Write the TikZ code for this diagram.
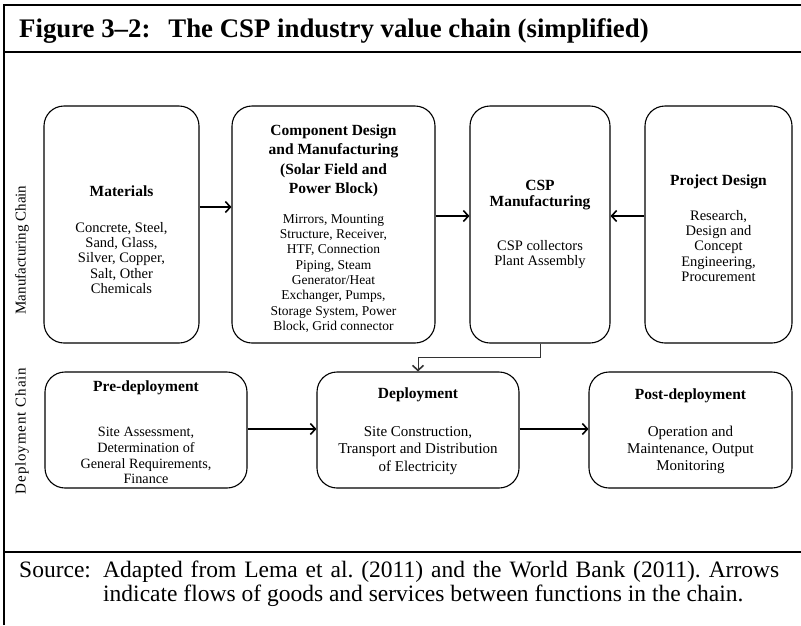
\documentclass[tikz,border=0pt]{standalone}
\usepackage{fontspec}
\setmainfont{Liberation Serif}
\usetikzlibrary{arrows.meta}
\frenchspacing
\begin{document}
\begin{tikzpicture}[x=1pt,y=-1pt,
  box/.style={draw, line width=1.1pt, rounded corners=20pt, inner sep=0pt},
  arr/.style={line width=1.3pt, -{Straight Barb[length=5pt,width=11pt,line width=1.6pt]}},
  frame/.style={line width=2.6pt},
  txt/.style={align=center, inner sep=0pt},
  head/.style={txt, font=\bfseries\fontsize{15.5}{19.5}\selectfont},
  body/.style={txt, font=\fontsize{14.5}{15.4}\selectfont},
  sbody/.style={txt, font=\fontsize{13.5}{15.3}\selectfont},
  side/.style={inner sep=0pt, rotate=90, font=\fontsize{15}{18}\selectfont},
]
\useasboundingbox (0,0) rectangle (801,625);
% frame
\draw[frame] (4,625) -- (4,5) -- (801,5);
\draw[frame] (4,52) -- (801,52);
\draw[frame] (4,552) -- (801,552);
% title
\node[anchor=base west, inner sep=0pt, font=\bfseries\fontsize{26.8}{30}\selectfont] (title) at (19,37)
  {Figure 3–2:\hspace{18pt}The CSP industry value chain (simplified)};
% side labels
\node[side] (mlab) at (22,250) {Manufacturing Chain};
\node[side, font=\fontsize{15}{18}\selectfont\addfontfeatures{LetterSpace=6}] (dlab) at (22,431) {Deployment Chain};
% top row boxes
\node[box, minimum width=155pt, minimum height=237pt] (mat) at (121.5,224.5) {};
\node[box, minimum width=203pt, minimum height=237pt] (comp) at (333.5,224.5) {};
\node[box, minimum width=140pt, minimum height=237pt] (csp) at (540,224.5) {};
\node[box, minimum width=147pt, minimum height=237pt] (proj) at (718.5,224.5) {};
% bottom row boxes
\node[box, minimum width=202pt, minimum height=116pt] (pre) at (146,430) {};
\node[box, minimum width=202pt, minimum height=116pt] (dep) at (418,430) {};
\node[box, minimum width=203pt, minimum height=116pt] (post) at (690.5,430) {};
% texts
\node[head] (matH) at (121.5,191) {Materials};
\node[body] (matB) at (121.5,258) {Concrete, Steel,\\Sand, Glass,\\Silver, Copper,\\Salt, Other\\Chemicals};
\node[head] (compH) at (333.5,161) {Component Design\\and Manufacturing\\(Solar Field and\\Power Block)};
\node[sbody] (compB) at (333.5,273.5) {Mirrors, Mounting\\Structure, Receiver,\\HTF, Connection\\Piping, Steam\\Generator/Heat\\Exchanger, Pumps,\\Storage System, Power\\Block, Grid connector};
\node[head, font=\bfseries\fontsize{15.5}{15.5}\selectfont] (cspH) at (540,195) {CSP\\Manufacturing};
\node[body] (cspB) at (540,254.5) {CSP collectors\\Plant Assembly};
\node[head] (projH) at (718.5,182) {Project Design};
\node[body] (projB) at (718.5,246) {Research,\\Design and\\Concept\\Engineering,\\Procurement};
\node[head] (preH) at (146,388) {Pre-deployment};
\node[body, font=\fontsize{14.2}{15.8}\selectfont] (preB) at (146,455.5) {Site Assessment,\\Determination of\\General Requirements,\\Finance};
\node[head] (depH) at (418,395) {Deployment};
\node[body, font=\fontsize{15}{17.5}\selectfont] (depB) at (418,450.5) {Site Construction,\\Transport and Distribution\\of Electricity};
\node[head] (postH) at (690.5,396) {Post-deployment};
\node[body, font=\fontsize{15}{17}\selectfont] (postB) at (690.5,450) {Operation and\\Maintenance, Output\\Monitoring};
% connectors
\coordinate (y1) at (0,207);
\coordinate (y2) at (0,216);
\coordinate (y3) at (0,429);
\draw[arr] (mat.east |- y1) -- (comp.west |- y1);
\draw[arr] (comp.east |- y2) -- (csp.west |- y2);
\draw[arr] (proj.west |- y2) -- (csp.east |- y2);
\draw[arr] (pre.east |- y3) -- (dep.west |- y3);
\draw[arr] (dep.east |- y3) -- (post.west |- y3);
\draw[arr, line width=1pt, draw=black!80] (csp.south) -- ++(0,14) -| (dep.north);
% caption
\node[anchor=base west, inner sep=0pt, font=\fontsize{23.5}{24}\selectfont] (src) at (19,577) {Source:};
\node[anchor=base west, inner sep=0pt, text width=676pt, align=justify, font=\fontsize{23.5}{24}\selectfont] (cap) at (103,577)
  {Adapted from Lema et al. (2011) and the World Bank (2011). Arrows\linebreak indicate flows of goods and services between functions in the chain.};
\end{tikzpicture}
\end{document}
